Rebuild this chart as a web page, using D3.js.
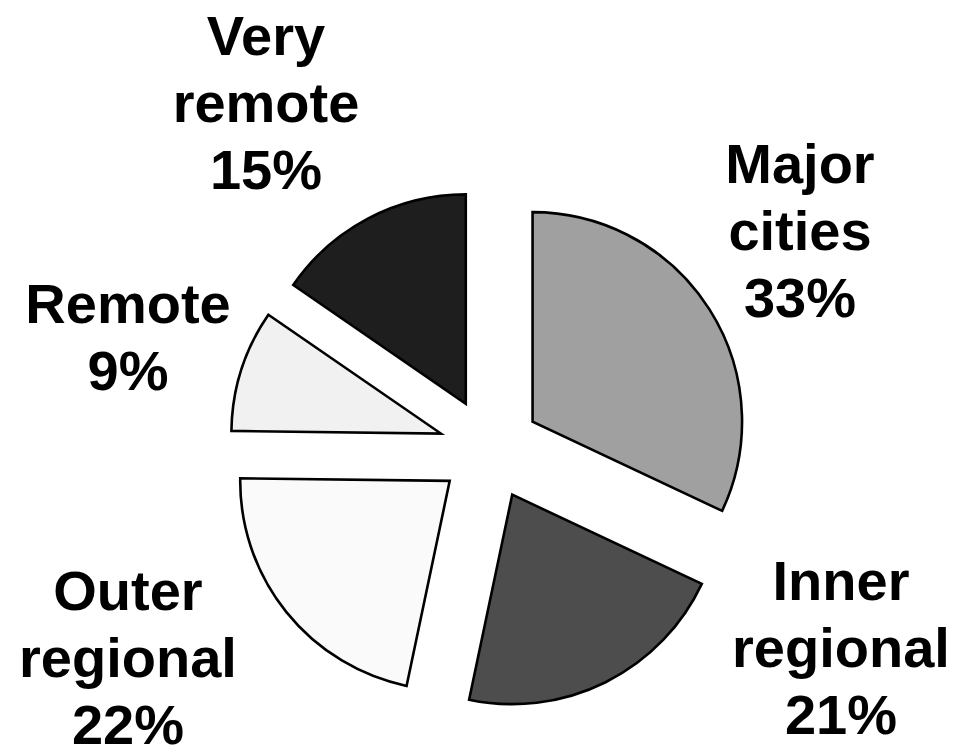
<!DOCTYPE html>
<html><head><meta charset="utf-8">
<script src="https://cdn.jsdelivr.net/npm/d3@7"></script>
<style>body{margin:0;background:#fff}svg{display:block}</style>
</head><body><svg id="chart" width="970" height="752"></svg>
<script>
// ---- data ----
const categories = ["Major cities", "Inner regional", "Outer regional", "Remote", "Very remote"];
const values = [32.0, 21.3, 21.9, 9.4, 15.4];
const pctLabels = ["33%", "21%", "22%", "9%", "15%"];
const labelLines = [["Major", "cities"], ["Inner", "regional"], ["Outer", "regional"], ["Remote"], ["Very", "remote"]];

// ---- style / layout ----
const colors = ["#a0a0a0", "#4d4d4d", "#fafafa", "#f1f1f1", "#1e1e1e"];
const cx = 489.5, cy = 449, R = 209.5, explode = 51;
const labelAnchors = [[800, 183], [841, 600], [128, 610], [128, 323], [266, 55]];
const lineH = 67;

const svg = d3.select("#chart");
svg.append("rect").attr("width", 970).attr("height", 752).attr("fill", "#fff");

const pie = d3.pie().sort(null).value(d => d.value);
const arcs = pie(categories.map((c, i) => ({ name: c, value: values[i], i })));
const arc = d3.arc().innerRadius(0).outerRadius(R);

const g = svg.append("g").attr("transform", `translate(${cx},${cy})`);
g.selectAll("path").data(arcs).join("path")
  .attr("d", arc)
  .attr("transform", d => {
    const a = (d.startAngle + d.endAngle) / 2;
    return `translate(${explode * Math.sin(a)},${-explode * Math.cos(a)})`;
  })
  .attr("fill", d => colors[d.data.i])
  .attr("stroke", "#000")
  .attr("stroke-width", 2.6);

const labels = svg.append("g")
  .attr("font-family", "'Liberation Sans', Arial, Helvetica, sans-serif")
  .attr("font-weight", "bold")
  .attr("font-size", 56)
  .attr("fill", "#000")
  .attr("text-anchor", "middle");

categories.forEach((c, i) => {
  const lines = labelLines[i].concat([pctLabels[i]]);
  const t = labels.append("text")
    .attr("x", labelAnchors[i][0])
    .attr("y", labelAnchors[i][1]);
  lines.forEach((ln, k) => {
    t.append("tspan")
      .attr("x", labelAnchors[i][0])
      .attr("y", labelAnchors[i][1] + k * lineH)
      .text(ln);
  });
});
</script>
</body></html>
